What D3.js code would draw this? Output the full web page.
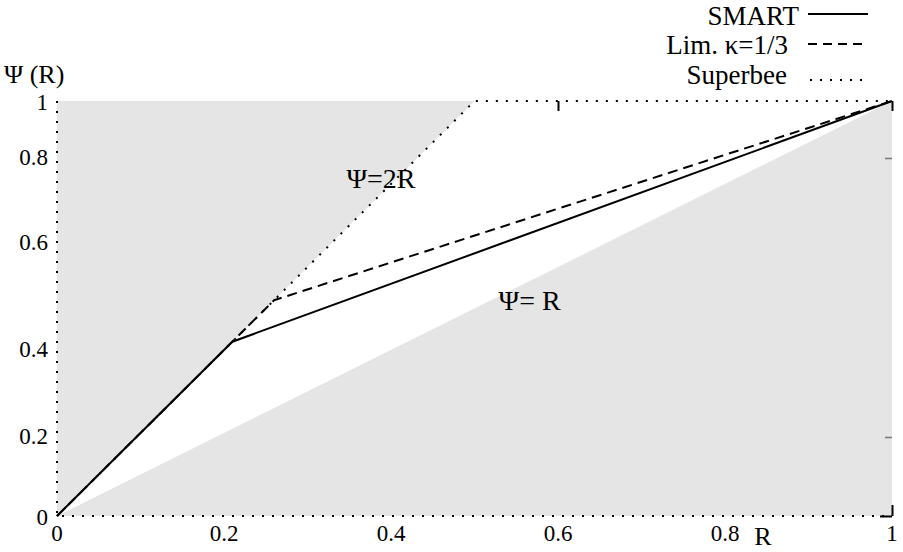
<!DOCTYPE html>
<html>
<head>
<meta charset="utf-8">
<script src="https://cdn.jsdelivr.net/npm/d3@7"></script>
<style>
  body { margin: 0; background: #fff; }
  text { font-family: "Liberation Serif", "Times New Roman", serif; fill: #000; }
</style>
</head>
<body>
<div></div>
<script>
const width = 903;
const height = 552;

// limiter curves (R, Psi)
const smart = [[0, 0], [0.21, 0.42], [1, 1]];
const kappa = [[0, 0], [0.26, 0.52], [1, 1]];
const superbee = [[0, 0], [0.5, 1], [1, 1]];

// shaded regions outside the TVD zone
const shadeUpper = [[0, 0], [0.5, 1], [0, 1]];
const shadeLower = [[0, 0], [1, 0], [1, 1]];

const xTicks = [0, 0.2, 0.4, 0.6, 0.8, 1];
const yTicks = [0, 0.2, 0.4, 0.6, 0.8, 1];
const topTicks = [0.6, 1];
const rightTicks = [0.2, 0.8];

const legendNames = ["SMART", "Lim. \u03BA=1/3", "Superbee"];
const notes = [
    { text: "\u03A8=2R", r: 0.388, psi: 0.79 },
    { text: "\u03A8= R", r: 0.566, psi: 0.496 }
];

const dashes = [null, "10,6", "2,8"];

const svg = d3.select('div')
    .append('svg')
    .attr('width', width)
    .attr('height', height);

const x = d3.scaleLinear().domain([0, 1]).range([57, 892]);
const y = d3.scaleLinear().domain([0, 1]).range([516, 101]);
// the scanned figure's y labels sit off their true heights
const yLabel = d3.scaleLinear().domain(yTicks).range([518, 437, 350, 243, 158, 103]);

const line = d3.line().x(d => x(d[0])).y(d => y(d[1]));

// grey areas
svg.selectAll('path.shade')
    .data([shadeUpper, shadeLower])
    .join('path')
    .attr('class', 'shade')
    .attr('d', d => line(d) + 'Z')
    .attr('fill', '#e5e5e5');

// dotted frame on left and bottom
svg.append('path')
    .attr('d', line([[0, 1], [0, 0], [1, 0]]))
    .attr('fill', 'none')
    .attr('stroke', '#000')
    .attr('stroke-width', 2)
    .attr('stroke-dasharray', '2,8');

// small inward ticks
const tickTop = svg.append('g')
    .attr('transform', `translate(0,${y(1)})`)
    .call(d3.axisTop(x).tickValues(topTicks).tickSize(-10).tickFormat(''));
const tickBottom = svg.append('g')
    .attr('transform', `translate(0,${y(0)})`)
    .call(d3.axisBottom(x).tickValues([1]).tickSize(-11).tickFormat(''));
const tickRight = svg.append('g')
    .attr('transform', `translate(${x(1)},0)`)
    .call(d3.axisRight(y).tickValues([0]).tickSize(-12).tickFormat(''));
const tickRightFaint = svg.append('g')
    .attr('transform', `translate(${x(1)},0)`)
    .call(d3.axisRight(yLabel).tickValues(rightTicks).tickSize(-7).tickFormat(''));
[tickTop, tickBottom, tickRight, tickRightFaint].forEach(g => {
    g.select('.domain').remove();
    g.selectAll('line').attr('stroke', '#000').attr('stroke-width', 2);
});
tickRightFaint.selectAll('line').attr('stroke', '#777').attr('stroke-width', 1.5);

// curves
const series = [smart, kappa, superbee];
svg.selectAll('path.curve')
    .data(series)
    .join('path')
    .attr('class', 'curve')
    .attr('d', line)
    .attr('fill', 'none')
    .attr('stroke', '#000')
    .attr('stroke-width', 2)
    .attr('stroke-dasharray', (d, i) => dashes[i]);

// tick labels
svg.append('g')
    .selectAll('text')
    .data(xTicks)
    .join('text')
    .attr('x', d => x(d))
    .attr('y', 541)
    .attr('text-anchor', 'middle')
    .style('font-size', '23px')
    .text(d => d3.format('')(d));

svg.append('g')
    .selectAll('text')
    .data(yTicks)
    .join('text')
    .attr('x', 48)
    .attr('y', d => yLabel(d) + 7)
    .attr('text-anchor', 'end')
    .style('font-size', '23px')
    .text(d => d3.format('')(d));

// axis titles
svg.append('text')
    .attr('x', 763)
    .attr('y', 545)
    .attr('text-anchor', 'middle')
    .style('font-size', '26px')
    .text('R');

svg.append('text')
    .attr('x', 4)
    .attr('y', 83)
    .style('font-size', '26px')
    .text('\u03A8 (R)');

// annotations inside the plot
svg.selectAll('text.note')
    .data(notes)
    .join('text')
    .attr('class', 'note')
    .attr('x', d => x(d.r))
    .attr('y', d => y(d.psi))
    .attr('text-anchor', 'middle')
    .style('font-size', '28px')
    .text(d => d.text);

// legend
const legend = svg.append('g');
const legendY = [25, 54, 84];
const legendRight = [799, 788, 787];
const legendLineY = [14, 44, 80];
legendNames.forEach((name, i) => {
    legend.append('text')
        .attr('x', legendRight[i])
        .attr('y', legendY[i])
        .attr('text-anchor', 'end')
        .style('font-size', '27px')
        .text(name);
    legend.append('line')
        .attr('x1', i === 2 ? 810 : 808)
        .attr('x2', 868)
        .attr('y1', legendLineY[i])
        .attr('y2', legendLineY[i])
        .attr('stroke', '#000')
        .attr('stroke-width', 2)
        .attr('stroke-dasharray', i === 1 ? '9,6' : dashes[i]);
});
</script>
</body>
</html>
